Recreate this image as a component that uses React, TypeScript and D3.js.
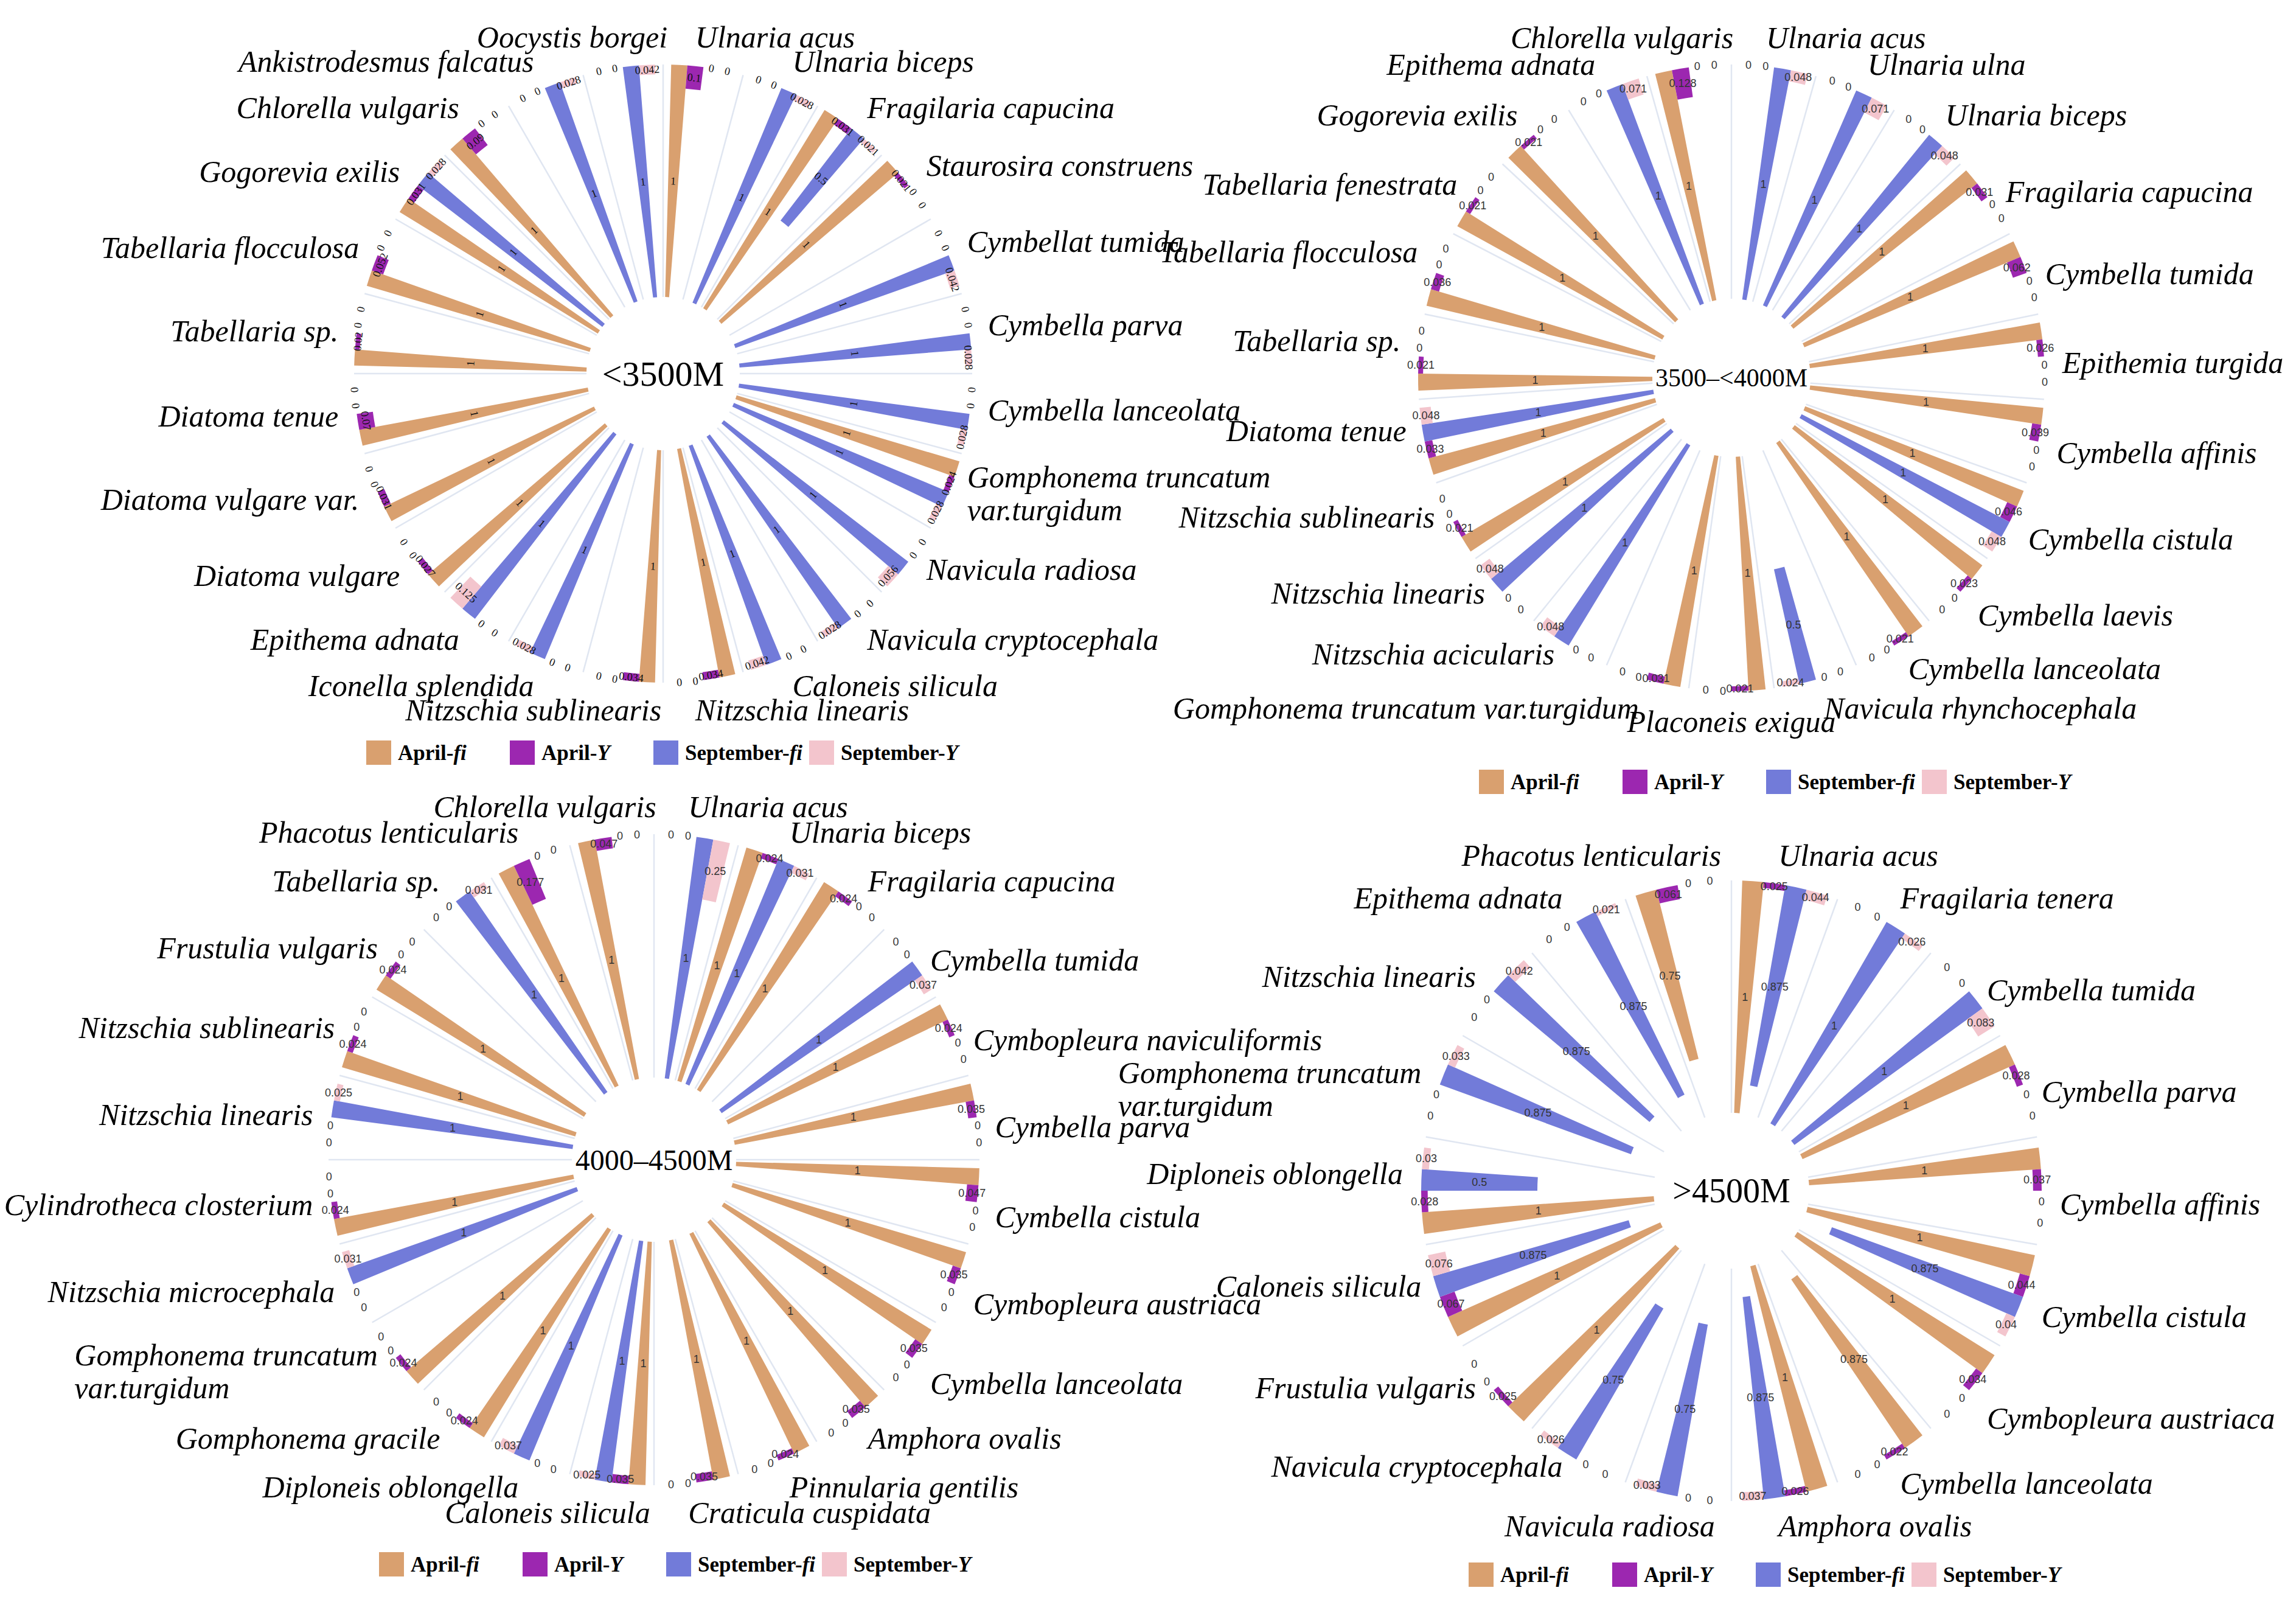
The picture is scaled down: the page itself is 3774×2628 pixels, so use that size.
import React from 'react';
import * as d3 from 'd3';

const SERIES = ['April-fi', 'April-Y', 'September-fi', 'September-Y'];
const COLORS = ['#D9A06F', '#9C27B0', '#727BD9', '#F3C5CD'];

// ---------- Panel 1: <3500M ----------
const species1 = ['Ulnaria acus', 'Ulnaria biceps', 'Fragilaria capucina', 'Staurosira construens', 'Cymbellat tumida', 'Cymbella parva', 'Cymbella lanceolata', 'Gomphonema truncatum\nvar.turgidum', 'Navicula radiosa', 'Navicula cryptocephala', 'Caloneis silicula', 'Nitzschia linearis', 'Nitzschia sublinearis', 'Iconella splendida', 'Epithema adnata', 'Diatoma vulgare', 'Diatoma vulgare var.', 'Diatoma tenue', 'Tabellaria sp.', 'Tabellaria flocculosa', 'Gogorevia exilis', 'Chlorella vulgaris', 'Ankistrodesmus falcatus', 'Oocystis borgei'];
const aprFi1 = [1, 0, 1, 1, 0, 0, 0, 1, 0, 0, 0, 1, 1, 0, 0, 1, 1, 1, 1, 1, 1, 1, 0, 0];
const aprY1 = [0.1, 0, 0.031, 0.021, 0, 0, 0, 0.024, 0, 0, 0, 0.034, 0.034, 0, 0, 0.027, 0.031, 0.07, 0.02, 0.052, 0.031, 0.09, 0, 0];
const sepFi1 = [0, 1, 0.5, 0, 1, 1, 1, 1, 1, 1, 1, 0, 0, 1, 1, 0, 0, 0, 0, 0, 1, 0, 1, 1];
const sepY1 = [0, 0.028, 0.021, 0, 0.042, 0.028, 0.028, 0.028, 0.056, 0.028, 0.042, 0, 0, 0.028, 0.125, 0, 0, 0, 0, 0, 0.028, 0, 0.028, 0.042];

// ---------- Panel 2: 3500–<4000M ----------
const species2 = ['Ulnaria acus', 'Ulnaria ulna', 'Ulnaria biceps', 'Fragilaria capucina', 'Cymbella tumida', 'Epithemia turgida', 'Cymbella affinis', 'Cymbella cistula', 'Cymbella laevis', 'Cymbella lanceolata', 'Navicula rhynchocephala', 'Placoneis exigua', 'Gomphonema truncatum var.turgidum', 'Nitzschia acicularis', 'Nitzschia linearis', 'Nitzschia sublinearis', 'Diatoma tenue', 'Tabellaria sp.', 'Tabellaria flocculosa', 'Tabellaria fenestrata', 'Gogorevia exilis', 'Epithema adnata', 'Chlorella vulgaris'];
const aprFi2 = [0, 0, 0, 1, 1, 1, 1, 1, 1, 1, 0, 1, 1, 0, 0, 1, 1, 1, 1, 1, 1, 0, 1];
const aprY2 = [0, 0, 0, 0.031, 0.062, 0.026, 0.039, 0.046, 0.023, 0.021, 0, 0.021, 0.031, 0, 0, 0.021, 0.033, 0.021, 0.036, 0.021, 0.021, 0, 0.128];
const sepFi2 = [1, 1, 1, 0, 0, 0, 0, 1, 0, 0, 0.5, 0, 0, 1, 1, 0, 1, 0, 0, 0, 0, 1, 0];
const sepY2 = [0.048, 0.071, 0.048, 0, 0, 0, 0, 0.048, 0, 0, 0.024, 0, 0, 0.048, 0.048, 0, 0.048, 0, 0, 0, 0, 0.071, 0];

// ---------- Panel 3: 4000–4500M ----------
const species3 = ['Ulnaria acus', 'Ulnaria biceps', 'Fragilaria capucina', 'Cymbella tumida', 'Cymbopleura naviculiformis', 'Cymbella parva', 'Cymbella cistula', 'Cymbopleura austriaca', 'Cymbella lanceolata', 'Amphora ovalis', 'Pinnularia gentilis', 'Craticula cuspidata', 'Caloneis silicula', 'Diploneis oblongella', 'Gomphonema gracile', 'Gomphonema truncatum\nvar.turgidum', 'Nitzschia microcephala', 'Cylindrotheca closterium', 'Nitzschia linearis', 'Nitzschia sublinearis', 'Frustulia vulgaris', 'Tabellaria sp.', 'Phacotus lenticularis', 'Chlorella vulgaris'];
const aprFi3 = [0, 1, 1, 0, 1, 1, 1, 1, 1, 1, 1, 1, 1, 0, 1, 1, 0, 1, 0, 1, 1, 0, 1, 1];
const aprY3 = [0, 0.024, 0.024, 0, 0.024, 0.035, 0.047, 0.035, 0.035, 0.035, 0.024, 0.035, 0.035, 0, 0.024, 0.024, 0, 0.024, 0, 0.024, 0.024, 0, 0.177, 0.047];
const sepFi3 = [1, 1, 0, 1, 0, 0, 0, 0, 0, 0, 0, 0, 1, 1, 0, 0, 1, 0, 1, 0, 0, 1, 0, 0];
const sepY3 = [0.25, 0.031, 0, 0.037, 0, 0, 0, 0, 0, 0, 0, 0, 0.025, 0.037, 0, 0, 0.031, 0, 0.025, 0, 0, 0.031, 0, 0];

// ---------- Panel 4: >4500M ----------
const species4 = ['Ulnaria acus', 'Fragilaria tenera', 'Cymbella tumida', 'Cymbella parva', 'Cymbella affinis', 'Cymbella cistula', 'Cymbopleura austriaca', 'Cymbella lanceolata', 'Amphora ovalis', 'Navicula radiosa', 'Navicula cryptocephala', 'Frustulia vulgaris', 'Caloneis silicula', 'Diploneis oblongella', 'Gomphonema truncatum\nvar.turgidum', 'Nitzschia linearis', 'Epithema adnata', 'Phacotus lenticularis'];
const aprFi4 = [1, 0, 0, 1, 1, 1, 1, 0.875, 1, 0, 0, 1, 1, 1, 0, 0, 0, 0.75];
const aprY4 = [0.025, 0, 0, 0.028, 0.037, 0.044, 0.034, 0.022, 0.026, 0, 0, 0.025, 0.067, 0.028, 0, 0, 0, 0.061];
const sepFi4 = [0.875, 1, 1, 0, 0, 0.875, 0, 0, 0.875, 0.75, 0.75, 0, 0.875, 0.5, 0.875, 0.875, 0.875, 0];
const sepY4 = [0.044, 0.026, 0.083, 0, 0, 0.04, 0, 0, 0.037, 0.033, 0.026, 0, 0.076, 0.03, 0.033, 0.042, 0.021, 0];

const W = 3774;
const H = 2628;

const PANELS = [
  { title: '<3500M', species: species1, series: [aprFi1, aprY1, sepFi1, sepY1], cx: 1090, cy: 614, R: 508, r0: 126, titleSize: 58, legendX: 602, legendY: 1237, serifValues: true, dyRight: -10, dyLeft: 0, leftCmax: 0.5, dyLeftUpper: 0 },
  { title: '3500–<4000M', species: species2, series: [aprFi2, aprY2, sepFi2, sepY2], cx: 2846, cy: 621, R: 515, r0: 130, titleSize: 42, legendX: 2431, legendY: 1285, serifValues: false, dyRight: 12, dyLeft: -24, leftCmax: 0.5, dyLeftUpper: 0 },
  { title: '4000–4500M', species: species3, series: [aprFi3, aprY3, sepFi3, sepY3], cx: 1075, cy: 1906, R: 535, r0: 135, titleSize: 48, legendX: 623, legendY: 2571, serifValues: false, dyRight: 20, dyLeft: 0, leftCmax: 0.5, dyLeftUpper: 0 },
  { title: '>4500M', species: species4, series: [aprFi4, aprY4, sepFi4, sepY4], cx: 2846, cy: 1957, R: 510, r0: 128, titleSize: 56, legendX: 2414, legendY: 2588, serifValues: false, dyRight: 22, dyLeft: -28, leftCmax: 0.1, dyLeftUpper: 18 },
];

const LABEL_FONT = 'Liberation Serif';
const LABEL_SIZE = 50;

let ctx: CanvasRenderingContext2D | null = null;
function measure(text: string, font: string): number {
  if (!ctx) ctx = document.createElement('canvas').getContext('2d');
  if (!ctx) return text.length * 20;
  ctx.font = font;
  return ctx.measureText(text).width;
}

function Panel({ p }: { p: any }) {
  const n = p.species.length;
  const angle = d3.scaleBand<string>().domain(p.species).range([0, 2 * Math.PI]).paddingInner(0.2).paddingOuter(0.1);
  const sub = d3.scaleBand<string>().domain(SERIES).range([0, angle.bandwidth()]);
  const radius = d3.scaleLinear().domain([0, 1]).range([p.R, p.r0]);
  const step = angle.step();
  const arc = d3.arc<any>();

  const grid = d3.range(n).map((i) => i * step);

  const bars: any[] = [];
  p.species.forEach((sp: string, i: number) => {
    SERIES.forEach((s, k) => {
      const v = p.series[k][i];
      const a0 = (angle(sp) as number) + (sub(s) as number);
      const a1 = a0 + sub.bandwidth();
      bars.push({ sp, s, k, v, a0, a1, am: (a0 + a1) / 2 });
    });
  });

  const valueFont = p.serifValues ? 'Liberation Serif' : 'Liberation Sans';
  const valueColor = p.serifValues ? '#111' : '#333';

  return (
    <g>
      {grid.map((a, i) => (
        <line key={'g' + i}
          x1={p.cx + p.r0 * Math.sin(a)} y1={p.cy - p.r0 * Math.cos(a)}
          x2={p.cx + p.R * Math.sin(a)} y2={p.cy - p.R * Math.cos(a)}
          stroke="#E0E6F1" strokeWidth={2.5} />
      ))}
      {bars.filter((b) => b.v > 0).map((b, i) => (
        <path key={'b' + i} transform={`translate(${p.cx},${p.cy})`}
          d={arc({ innerRadius: radius(b.v), outerRadius: p.R, startAngle: b.a0, endAngle: b.a1 }) as string}
          fill={COLORS[b.k]} />
      ))}
      {bars.map((b, i) => {
        const r = (p.R + radius(b.v)) / 2;
        const x = p.cx + r * Math.sin(b.am);
        const y = p.cy - r * Math.cos(b.am);
        let rot = 0;
        if (p.serifValues) {
          const deg = (b.am * 180) / Math.PI;
          rot = deg > 90 && deg < 270 ? deg - 180 : deg;
        }
        return (
          <text key={'v' + i} x={x} y={y} transform={rot ? `rotate(${rot},${x},${y})` : undefined}
            textAnchor="middle" dominantBaseline="central"
            fontFamily={valueFont} fontSize={18} fill={valueColor}>
            {String(b.v)}
          </text>
        );
      })}
      {p.species.map((sp: string, i: number) => {
        const a = (i + 0.5) * step;
        const s = Math.sin(a);
        const c = Math.cos(a);
        const Rl = p.R + 30 + 20 * c * c;
        let x = p.cx + Rl * s;
        let y = p.cy - Rl * c;
        let anchor = 'start';
        if (Math.abs(s) < 0.02) anchor = 'middle';
        else if (s < 0) anchor = 'end';
        if (Math.abs(s) < 0.25 && Math.abs(s) >= 0.02) {
          if (c > 0) x += s < 0 ? 80 : -20;
          else x += s < 0 ? 70 : -20;
        } else if (s > 0 && Math.abs(c) < 0.75) {
          y += p.dyRight;
        } else if (s < 0 && c < p.leftCmax && Math.abs(c) < 0.9) {
          y += p.dyLeft;
        } else if (s < 0 && c >= p.leftCmax && c < 0.5) {
          y += p.dyLeftUpper;
        }
        const lines = sp.split('\n');
        const font = `italic ${LABEL_SIZE}px "${LABEL_FONT}"`;
        if (lines.length === 1) {
          return (
            <text key={'l' + i} x={x} y={y} textAnchor={anchor} dominantBaseline="central"
              fontFamily={LABEL_FONT} fontStyle="italic" fontSize={LABEL_SIZE} fill="#000">{sp}</text>
          );
        }
        const w = Math.max(...lines.map((l) => measure(l, font)));
        const x0 = anchor === 'end' ? x - w : anchor === 'middle' ? x - w / 2 : x;
        return (
          <g key={'l' + i}>
            {lines.map((l, j) => (
              <text key={j} x={x0} y={y + (j - (lines.length - 1) / 2) * 54} textAnchor="start" dominantBaseline="central"
                fontFamily={LABEL_FONT} fontStyle="italic" fontSize={LABEL_SIZE} fill="#000">{l}</text>
            ))}
          </g>
        );
      })}
      <text x={p.cx} y={p.cy} textAnchor="middle" dominantBaseline="central"
        fontFamily="Liberation Serif" fontSize={p.titleSize} fill="#000">{p.title}</text>
      {SERIES.map((s, k) => {
        const offs = [0, 236, 472, 728];
        const lx = p.legendX + offs[k];
        const parts = s.split('-');
        return (
          <g key={'lg' + k}>
            <rect x={lx} y={p.legendY - 20} width={41} height={40} fill={COLORS[k]} />
            <text x={lx + 52} y={p.legendY + 12} fontFamily="Liberation Serif" fontWeight="bold" fontSize={35} fill="#000">
              {parts[0] + '-'}<tspan fontStyle="italic">{parts[1]}</tspan>
            </text>
          </g>
        );
      })}
    </g>
  );
}

export default function App() {
  return (
    <svg width={W} height={H} viewBox={`0 0 ${W} ${H}`} style={{ position: 'absolute', left: 0, top: 0, background: '#fff' }}>
      <rect x={0} y={0} width={W} height={H} fill="#fff" />
      {PANELS.map((p, i) => <Panel key={i} p={p} />)}
    </svg>
  );
}
